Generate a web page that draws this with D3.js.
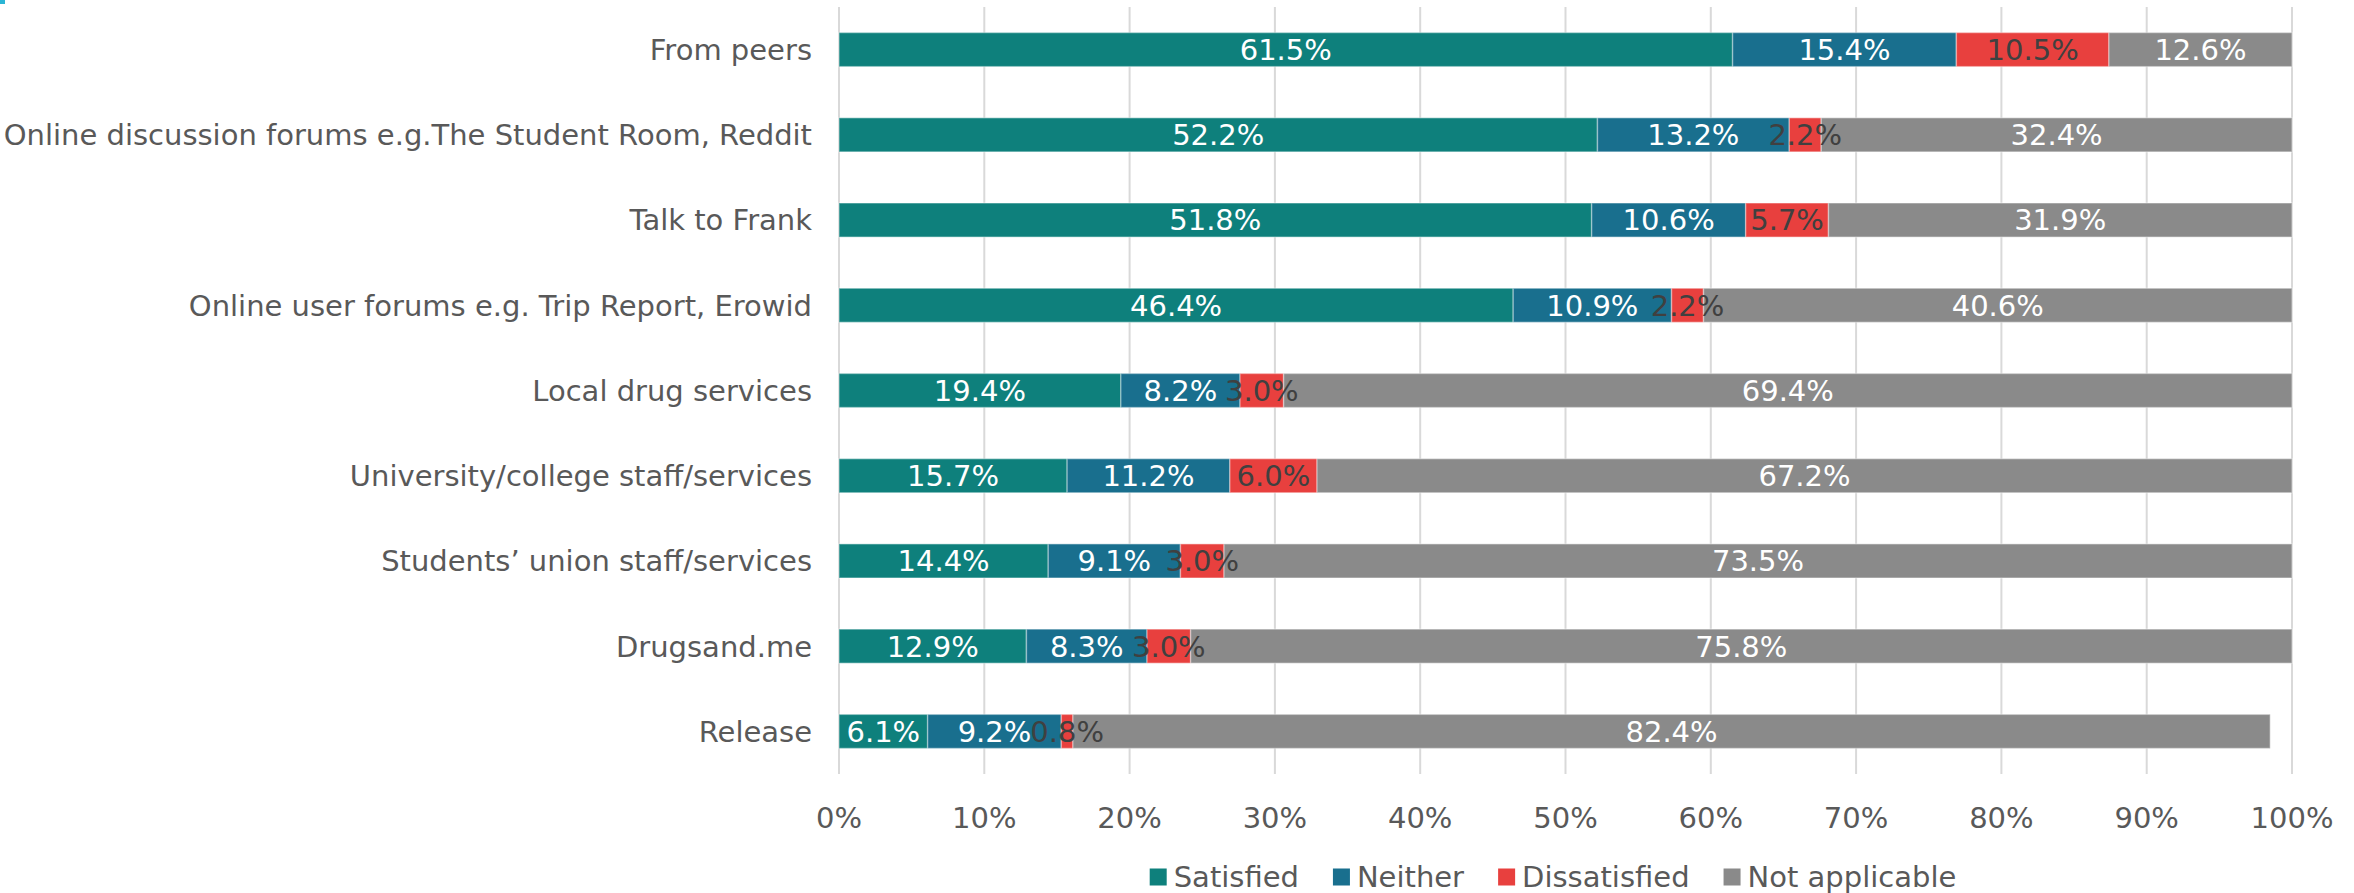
<!DOCTYPE html>
<html>
<head>
<meta charset="utf-8">
<script src="https://cdn.jsdelivr.net/npm/d3@7"></script>
<style>
  html, body { margin: 0; padding: 0; background: #fff; }
  svg { display: block; font-family: "DejaVu Sans", sans-serif; }
</style>
</head>
<body>
<div id="chart"></div>
<script>
// categories top to bottom
const categories = [
    "From peers",
    "Online discussion forums e.g.The Student Room, Reddit",
    "Talk to Frank",
    "Online user forums e.g. Trip Report, Erowid",
    "Local drug services",
    "University/college staff/services",
    "Students\u2019 union staff/services",
    "Drugsand.me",
    "Release"
];

const seriesNames = ["Satisfied", "Neither", "Dissatisfied", "Not applicable"];

// values in percent, same order as categories
const satisfied     = [61.5, 52.2, 51.8, 46.4, 19.4, 15.7, 14.4, 12.9, 6.1];
const neither       = [15.4, 13.2, 10.6, 10.9, 8.2, 11.2, 9.1, 8.3, 9.2];
const dissatisfied  = [10.5, 2.2, 5.7, 2.2, 3.0, 6.0, 3.0, 3.0, 0.8];
const notApplicable = [12.6, 32.4, 31.9, 40.6, 69.4, 67.2, 73.5, 75.8, 82.4];

const xTicks = [0, 10, 20, 30, 40, 50, 60, 70, 80, 90, 100];

const colors = ["#0e807c", "#196f8e", "#e8403e", "#8a8a8a"];
const labelColors = ["#ffffff", "#ffffff", "#404040", "#ffffff"];

const width = 2354, height = 893;
const plotLeft = 839, plotRight = 2292, plotTop = 7, plotBottom = 774;
const fontSize = 29;

const svg = d3.select("#chart")
    .append("svg")
    .attr("width", width)
    .attr("height", height);

// little cyan handle in the top-left corner
svg.append("rect")
    .attr("x", 0).attr("y", 0)
    .attr("width", 5).attr("height", 4)
    .attr("fill", "#2bb5d5");

const x = d3.scaleLinear()
    .domain([0, 100])
    .range([plotLeft, plotRight]);

const y = d3.scaleBand()
    .domain(categories)
    .range([plotTop, plotBottom])
    .paddingInner(0.6)
    .paddingOuter(0.3);

// gridlines
svg.append("g")
    .selectAll("line")
    .data(xTicks)
    .join("line")
    .attr("x1", d => x(d))
    .attr("x2", d => x(d))
    .attr("y1", plotTop)
    .attr("y2", plotBottom)
    .attr("stroke", "#d9d9d9")
    .attr("stroke-width", 2);

// stack the rows
const rows = categories.map((c, i) => ({
    category: c,
    "Satisfied": satisfied[i],
    "Neither": neither[i],
    "Dissatisfied": dissatisfied[i],
    "Not applicable": notApplicable[i]
}));

const stacked = d3.stack().keys(seriesNames)(rows);

const layers = svg.append("g")
    .selectAll("g")
    .data(stacked)
    .join("g")
    .attr("fill", (d, i) => colors[i]);

layers.selectAll("rect")
    .data(d => d)
    .join("rect")
    .attr("x", d => x(d[0]))
    .attr("y", d => y(d.data.category))
    .attr("width", d => x(Math.min(d[1], 100)) - x(d[0]))
    .attr("height", y.bandwidth())
    .attr("stroke", "rgba(255,255,255,0.35)")
    .attr("stroke-width", 1.5);

// data labels
const labels = svg.append("g")
    .selectAll("g")
    .data(stacked)
    .join("g")
    .attr("fill", (d, i) => labelColors[i]);

labels.selectAll("text")
    .data(d => d)
    .join("text")
    .attr("x", d => x((d[0] + Math.min(d[1], 100)) / 2))
    .attr("y", d => y(d.data.category) + y.bandwidth() / 2)
    .attr("dy", "0.36em")
    .attr("text-anchor", "middle")
    .attr("font-size", fontSize)
    .text(d => (d[1] - d[0]).toFixed(1) + "%");

// category labels
svg.append("g")
    .selectAll("text")
    .data(categories)
    .join("text")
    .attr("x", plotLeft - 27)
    .attr("y", d => y(d) + y.bandwidth() / 2)
    .attr("dy", "0.36em")
    .attr("text-anchor", "end")
    .attr("font-size", fontSize)
    .attr("fill", "#595959")
    .text(d => d);

// x axis tick labels
svg.append("g")
    .selectAll("text")
    .data(xTicks)
    .join("text")
    .attr("x", d => x(d))
    .attr("y", 818)
    .attr("dy", "0.36em")
    .attr("text-anchor", "middle")
    .attr("font-size", fontSize)
    .attr("fill", "#595959")
    .text(d => d + "%");

// legend
const legend = svg.append("g");
const items = legend.selectAll("g")
    .data(seriesNames)
    .join("g");

items.append("rect")
    .attr("width", 17)
    .attr("height", 17)
    .attr("y", -8.5)
    .attr("fill", (d, i) => colors[i]);

items.append("text")
    .attr("x", 24)
    .attr("dy", "0.36em")
    .attr("font-size", fontSize)
    .attr("fill", "#595959")
    .text(d => d);

let cursor = 0;
items.each(function () {
    const w = this.getBBox().width;
    d3.select(this).attr("transform", `translate(${cursor},0)`);
    cursor += w + 34;
});
const legendWidth = cursor - 34;
legend.attr("transform", `translate(${1553 - legendWidth / 2},877)`);
</script>
</body>
</html>
